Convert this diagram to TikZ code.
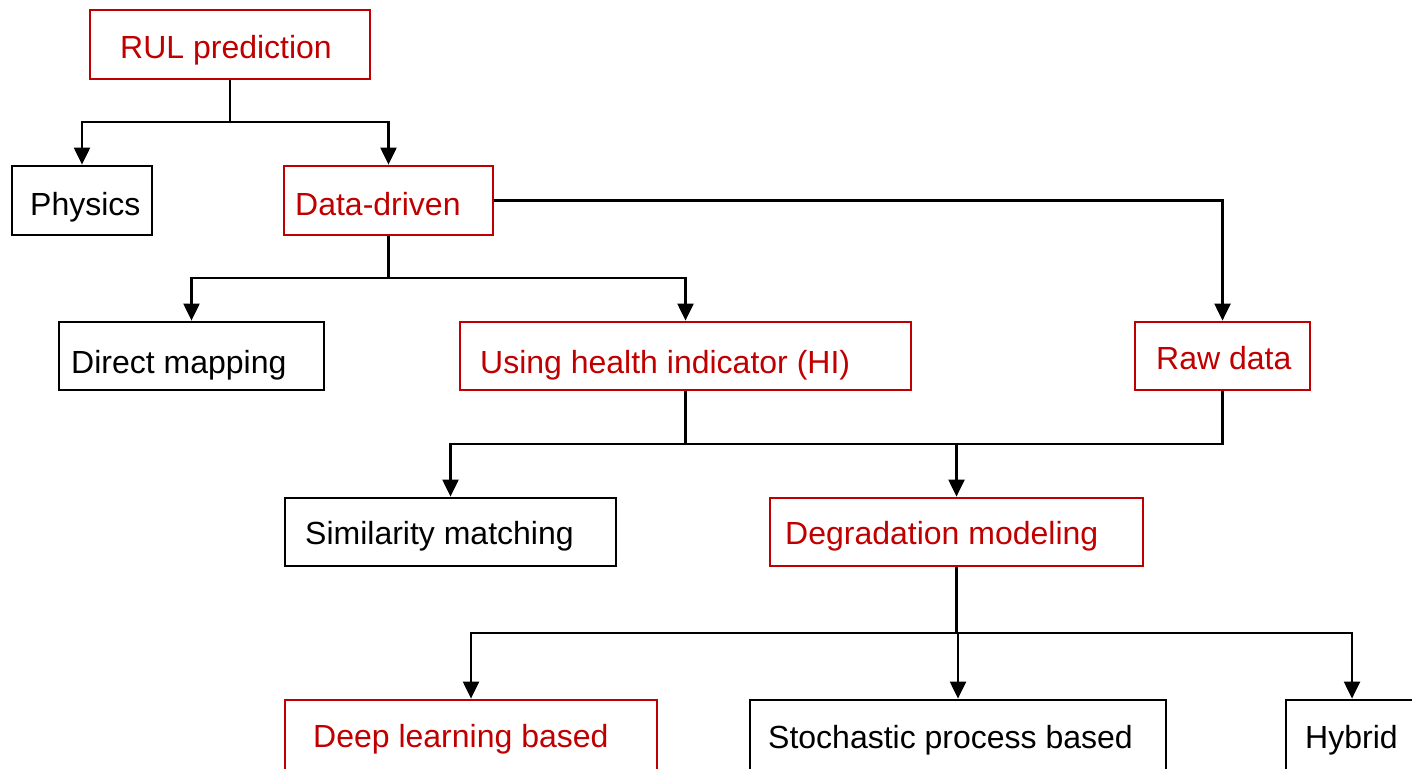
\documentclass[tikz,border=0pt]{standalone}
\usepackage{fontspec}
\setmainfont{Liberation Sans}
\usetikzlibrary{arrows.meta}
\definecolor{darkred}{HTML}{C00000}
\tikzset{
  box/.style={draw, line width=2.8pt, inner sep=0pt, rectangle},
  redbox/.style={box, draw=darkred},
  blackbox/.style={box, draw=black},
  lbl/.style={anchor=base west, inner sep=0pt, font=\fontsize{32}{38}\selectfont},
  redlbl/.style={lbl, text=darkred},
  conn/.style={draw=black, line width=2.2pt},
  arr/.style={conn, -{Triangle[width=16pt,length=17pt]}},
}
% box: style, name, x1, y1, x2, y2
\newcommand\flowbox[6]{%
  \node[#1, minimum width={#5-#3}, minimum height={#6-#4}] (#2) at ({(#3+#5)/2},{(#4+#6)/2}) {};}
\begin{document}
\begin{tikzpicture}[x=1pt,y=-1pt]
\useasboundingbox (0,0) rectangle (1412,768);

% boxes
\flowbox{redbox}{rul}{90}{10}{370}{79}
\flowbox{blackbox}{phys}{12}{166}{152}{235}
\flowbox{redbox}{data}{284}{166}{493}{235}
\flowbox{blackbox}{direct}{59}{322}{324}{390}
\flowbox{redbox}{hi}{460}{322}{911}{390}
\flowbox{redbox}{raw}{1135}{322}{1310}{390}
\flowbox{blackbox}{sim}{285}{498}{616}{566}
\flowbox{redbox}{deg}{770}{498}{1143}{566}
\flowbox{redbox}{deep}{285}{700}{657}{774}
\flowbox{blackbox}{stoch}{750}{700}{1166}{774}
\flowbox{blackbox}{hyb}{1286}{700}{1418}{774}

% labels
\node[redlbl] (trul) at (120,59) {RUL prediction};
\node[lbl] (tphys) at (30,215) {Physics};
\node[redlbl] (tdata) at (295,215) {Data-driven};
\node[lbl] (tdirect) at (71,373) {Direct mapping};
\node[redlbl] (thi) at (480,373) {Using health indicator (HI)};
\node[redlbl] (traw) at (1156,369) {Raw data};
\node[lbl] (tsim) at (305,544) {Similarity matching};
\node[redlbl] (tdeg) at (785,544) {Degradation modeling};
\node[redlbl] (tdeep) at (313,747) {Deep learning based};
\node[lbl] (tstoch) at (768,748) {Stochastic process based};
\node[lbl] (thyb) at (1305,748) {Hybrid};

% junction points
\coordinate (j1) at (230,122);
\coordinate (j2) at (388.5,278);
\coordinate (j3) at (685.5,444);
\coordinate (j4) at (956.5,633);

% connectors
\draw[conn] (rul.south) -- (j1);
\draw[arr] (j1) -| (phys.north);
\draw[arr] (j1) -| (data.north);

\draw[conn] (data.south) -- (j2);
\draw[arr] (j2) -| (direct.north);
\draw[arr] (j2) -| (hi.north);
\draw[arr] (data.east) -| (raw.north);

\draw[conn] (hi.south) -- (j3) -| (raw.south);
\draw[arr] (j3) -| (sim.north);
\draw[arr] (deg.north |- j3) -- (deg.north);

\draw[conn] (deg.south) -- (j4);
\draw[arr] (j4) -| (deep.north);
\draw[arr] (stoch.north |- j4) -- (stoch.north);
\draw[arr] (j4) -| (hyb.north);
\end{tikzpicture}
\end{document}
